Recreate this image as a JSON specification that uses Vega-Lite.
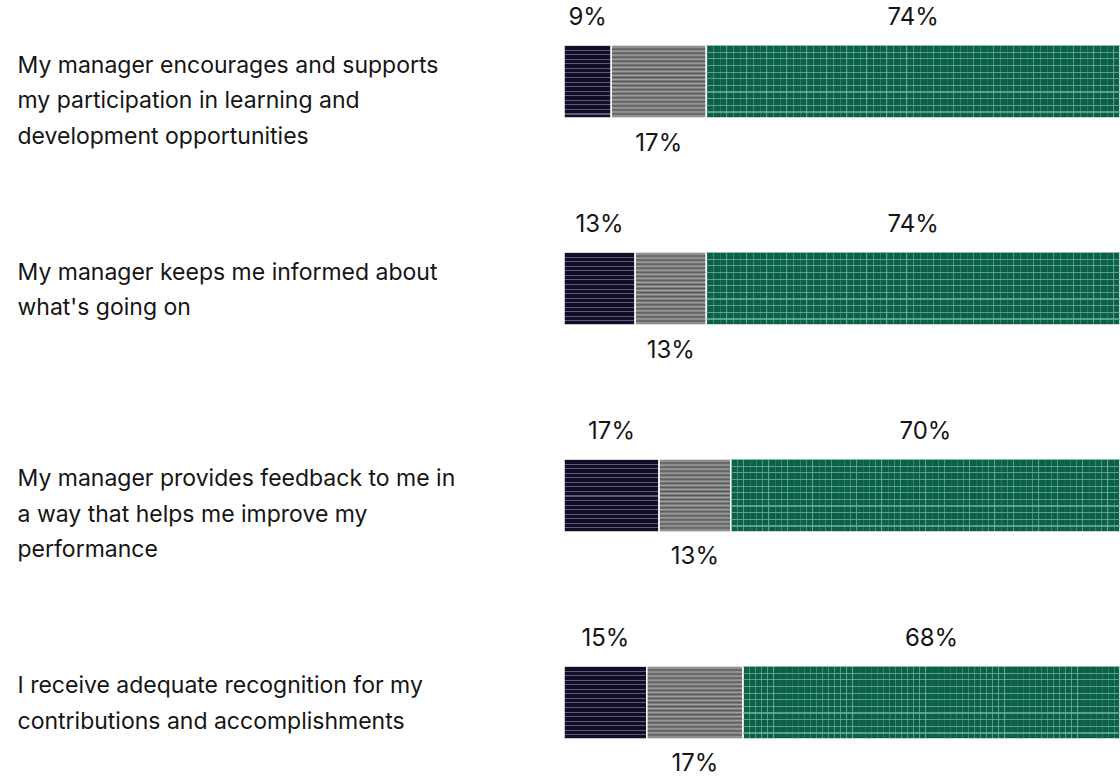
{
  "$schema": "https://vega.github.io/schema/vega-lite/v6.json",
  "width": 556,
  "height": 694,
  "autosize": {"type": "none"},
  "padding": {"left": 564, "top": 45, "right": 0, "bottom": 37},
  "background": "white",
  "config": {"view": {"stroke": null}, "font": "Inter"},
  "data": {
    "values": [
      {"q": "My manager encourages and supports|my participation in learning and|development opportunities", "cat": "Disagree", "o": 1, "v": 8.5, "lbl": "9%"},
      {"q": "My manager encourages and supports|my participation in learning and|development opportunities", "cat": "Neutral", "o": 2, "v": 17.1, "lbl": "17%"},
      {"q": "My manager encourages and supports|my participation in learning and|development opportunities", "cat": "Agree", "o": 3, "v": 74.4, "lbl": "74%"},
      {"q": "My manager keeps me informed about|what's going on", "cat": "Disagree", "o": 1, "v": 12.8, "lbl": "13%"},
      {"q": "My manager keeps me informed about|what's going on", "cat": "Neutral", "o": 2, "v": 12.8, "lbl": "13%"},
      {"q": "My manager keeps me informed about|what's going on", "cat": "Agree", "o": 3, "v": 74.4, "lbl": "74%"},
      {"q": "My manager provides feedback to me in|a way that helps me improve my|performance", "cat": "Disagree", "o": 1, "v": 17.1, "lbl": "17%"},
      {"q": "My manager provides feedback to me in|a way that helps me improve my|performance", "cat": "Neutral", "o": 2, "v": 12.9, "lbl": "13%"},
      {"q": "My manager provides feedback to me in|a way that helps me improve my|performance", "cat": "Agree", "o": 3, "v": 70.0, "lbl": "70%"},
      {"q": "I receive adequate recognition for my|contributions and accomplishments", "cat": "Disagree", "o": 1, "v": 14.9, "lbl": "15%"},
      {"q": "I receive adequate recognition for my|contributions and accomplishments", "cat": "Neutral", "o": 2, "v": 17.3, "lbl": "17%"},
      {"q": "I receive adequate recognition for my|contributions and accomplishments", "cat": "Agree", "o": 3, "v": 67.8, "lbl": "68%"}
    ]
  },
  "transform": [
    {"stack": "v", "groupby": ["q"], "sort": [{"field": "o", "order": "ascending"}], "as": ["v0", "v1"]},
    {"calculate": "(datum.v0 + datum.v1) / 2", "as": "mid"}
  ],
  "encoding": {
    "y": {
      "field": "q",
      "type": "nominal",
      "sort": null,
      "scale": {"paddingInner": 0.647, "paddingOuter": 0},
      "axis": {
        "title": null,
        "ticks": false,
        "domain": false,
        "labelAlign": "left",
        "labelPadding": 547,
        "labelLimit": 0,
        "labelFont": "Inter",
        "labelFontSize": 23,
        "labelColor": "#151515",
        "labelBaseline": "top",
        "labelOffset": -27,
        "labelLineHeight": 35.5,
        "labelExpr": "split(datum.label, '|')"
      }
    }
  },
  "layer": [
    {
      "transform": [{"filter": "datum.cat === 'Disagree'"}],
      "mark": {
        "type": "bar",
        "stroke": "white",
        "strokeWidth": 1.5,
        "fill": {
          "gradient": "linear", "x1": 0, "y1": 0, "x2": 0, "y2": 1,
          "stops": [
            {"offset": 0, "color": "#5e5a74"}, {"offset": 0.014, "color": "#5e5a74"}, {"offset": 0.014, "color": "#110d27"}, {"offset": 0.0625, "color": "#110d27"},
            {"offset": 0.0625, "color": "#5e5a74"}, {"offset": 0.0765, "color": "#5e5a74"}, {"offset": 0.0765, "color": "#110d27"}, {"offset": 0.125, "color": "#110d27"},
            {"offset": 0.125, "color": "#5e5a74"}, {"offset": 0.139, "color": "#5e5a74"}, {"offset": 0.139, "color": "#110d27"}, {"offset": 0.1875, "color": "#110d27"},
            {"offset": 0.1875, "color": "#5e5a74"}, {"offset": 0.2015, "color": "#5e5a74"}, {"offset": 0.2015, "color": "#110d27"}, {"offset": 0.25, "color": "#110d27"},
            {"offset": 0.25, "color": "#5e5a74"}, {"offset": 0.264, "color": "#5e5a74"}, {"offset": 0.264, "color": "#110d27"}, {"offset": 0.3125, "color": "#110d27"},
            {"offset": 0.3125, "color": "#5e5a74"}, {"offset": 0.3265, "color": "#5e5a74"}, {"offset": 0.3265, "color": "#110d27"}, {"offset": 0.375, "color": "#110d27"},
            {"offset": 0.375, "color": "#5e5a74"}, {"offset": 0.389, "color": "#5e5a74"}, {"offset": 0.389, "color": "#110d27"}, {"offset": 0.4375, "color": "#110d27"},
            {"offset": 0.4375, "color": "#5e5a74"}, {"offset": 0.4515, "color": "#5e5a74"}, {"offset": 0.4515, "color": "#110d27"}, {"offset": 0.5, "color": "#110d27"},
            {"offset": 0.5, "color": "#5e5a74"}, {"offset": 0.514, "color": "#5e5a74"}, {"offset": 0.514, "color": "#110d27"}, {"offset": 0.5625, "color": "#110d27"},
            {"offset": 0.5625, "color": "#5e5a74"}, {"offset": 0.5765, "color": "#5e5a74"}, {"offset": 0.5765, "color": "#110d27"}, {"offset": 0.625, "color": "#110d27"},
            {"offset": 0.625, "color": "#5e5a74"}, {"offset": 0.639, "color": "#5e5a74"}, {"offset": 0.639, "color": "#110d27"}, {"offset": 0.6875, "color": "#110d27"},
            {"offset": 0.6875, "color": "#5e5a74"}, {"offset": 0.7015, "color": "#5e5a74"}, {"offset": 0.7015, "color": "#110d27"}, {"offset": 0.75, "color": "#110d27"},
            {"offset": 0.75, "color": "#5e5a74"}, {"offset": 0.764, "color": "#5e5a74"}, {"offset": 0.764, "color": "#110d27"}, {"offset": 0.8125, "color": "#110d27"},
            {"offset": 0.8125, "color": "#5e5a74"}, {"offset": 0.8265, "color": "#5e5a74"}, {"offset": 0.8265, "color": "#110d27"}, {"offset": 0.875, "color": "#110d27"},
            {"offset": 0.875, "color": "#5e5a74"}, {"offset": 0.889, "color": "#5e5a74"}, {"offset": 0.889, "color": "#110d27"}, {"offset": 0.9375, "color": "#110d27"},
            {"offset": 0.9375, "color": "#5e5a74"}, {"offset": 0.9515, "color": "#5e5a74"}, {"offset": 0.9515, "color": "#110d27"}, {"offset": 1, "color": "#110d27"}
          ]
        }
      },
      "encoding": {
        "x": {"field": "v0", "type": "quantitative", "scale": {"domain": [0, 100], "nice": false, "zero": true}, "axis": null},
        "x2": {"field": "v1"}
      }
    },
    {
      "transform": [{"filter": "datum.cat === 'Neutral'"}],
      "mark": {
        "type": "bar",
        "stroke": "white",
        "strokeWidth": 1.5,
        "fill": {
          "gradient": "linear", "x1": 0, "y1": 0, "x2": 0, "y2": 1,
          "stops": [
            {"offset": 0, "color": "#575757"}, {"offset": 0.02778, "color": "#a2a2a2"}, {"offset": 0.05556, "color": "#575757"}, {"offset": 0.08333, "color": "#a2a2a2"},
            {"offset": 0.11111, "color": "#575757"}, {"offset": 0.13889, "color": "#a2a2a2"}, {"offset": 0.16667, "color": "#575757"}, {"offset": 0.19444, "color": "#a2a2a2"},
            {"offset": 0.22222, "color": "#575757"}, {"offset": 0.25, "color": "#a2a2a2"}, {"offset": 0.27778, "color": "#575757"}, {"offset": 0.30556, "color": "#a2a2a2"},
            {"offset": 0.33333, "color": "#575757"}, {"offset": 0.36111, "color": "#a2a2a2"}, {"offset": 0.38889, "color": "#575757"}, {"offset": 0.41667, "color": "#a2a2a2"},
            {"offset": 0.44444, "color": "#575757"}, {"offset": 0.47222, "color": "#a2a2a2"}, {"offset": 0.5, "color": "#575757"}, {"offset": 0.52778, "color": "#a2a2a2"},
            {"offset": 0.55556, "color": "#575757"}, {"offset": 0.58333, "color": "#a2a2a2"}, {"offset": 0.61111, "color": "#575757"}, {"offset": 0.63889, "color": "#a2a2a2"},
            {"offset": 0.66667, "color": "#575757"}, {"offset": 0.69444, "color": "#a2a2a2"}, {"offset": 0.72222, "color": "#575757"}, {"offset": 0.75, "color": "#a2a2a2"},
            {"offset": 0.77778, "color": "#575757"}, {"offset": 0.80556, "color": "#a2a2a2"}, {"offset": 0.83333, "color": "#575757"}, {"offset": 0.86111, "color": "#a2a2a2"},
            {"offset": 0.88889, "color": "#575757"}, {"offset": 0.91667, "color": "#a2a2a2"}, {"offset": 0.94444, "color": "#575757"}, {"offset": 0.97222, "color": "#a2a2a2"},
            {"offset": 1, "color": "#575757"}
          ]
        }
      },
      "encoding": {
        "x": {"field": "v0", "type": "quantitative"},
        "x2": {"field": "v1"}
      }
    },
    {
      "transform": [{"filter": "datum.cat === 'Agree'"}],
      "mark": {
        "type": "bar",
        "stroke": "white",
        "strokeWidth": 1.5,
        "fill": {
          "gradient": "linear", "x1": 0, "y1": 0, "x2": 1, "y2": 0,
          "stops": [
            {"offset": 0, "color": "#66a590"}, {"offset": 0.003, "color": "#0b6147"}, {"offset": 0.01613, "color": "#0b6147"},
            {"offset": 0.01613, "color": "#66a590"}, {"offset": 0.01913, "color": "#0b6147"}, {"offset": 0.03226, "color": "#0b6147"},
            {"offset": 0.03226, "color": "#66a590"}, {"offset": 0.03526, "color": "#0b6147"}, {"offset": 0.04839, "color": "#0b6147"},
            {"offset": 0.04839, "color": "#66a590"}, {"offset": 0.05139, "color": "#0b6147"}, {"offset": 0.06452, "color": "#0b6147"},
            {"offset": 0.06452, "color": "#66a590"}, {"offset": 0.06752, "color": "#0b6147"}, {"offset": 0.08065, "color": "#0b6147"},
            {"offset": 0.08065, "color": "#66a590"}, {"offset": 0.08365, "color": "#0b6147"}, {"offset": 0.09677, "color": "#0b6147"},
            {"offset": 0.09677, "color": "#66a590"}, {"offset": 0.09977, "color": "#0b6147"}, {"offset": 0.1129, "color": "#0b6147"},
            {"offset": 0.1129, "color": "#66a590"}, {"offset": 0.1159, "color": "#0b6147"}, {"offset": 0.12903, "color": "#0b6147"},
            {"offset": 0.12903, "color": "#66a590"}, {"offset": 0.13203, "color": "#0b6147"}, {"offset": 0.14516, "color": "#0b6147"},
            {"offset": 0.14516, "color": "#66a590"}, {"offset": 0.14816, "color": "#0b6147"}, {"offset": 0.16129, "color": "#0b6147"},
            {"offset": 0.16129, "color": "#66a590"}, {"offset": 0.16429, "color": "#0b6147"}, {"offset": 0.17742, "color": "#0b6147"},
            {"offset": 0.17742, "color": "#66a590"}, {"offset": 0.18042, "color": "#0b6147"}, {"offset": 0.19355, "color": "#0b6147"},
            {"offset": 0.19355, "color": "#66a590"}, {"offset": 0.19655, "color": "#0b6147"}, {"offset": 0.20968, "color": "#0b6147"},
            {"offset": 0.20968, "color": "#66a590"}, {"offset": 0.21268, "color": "#0b6147"}, {"offset": 0.22581, "color": "#0b6147"},
            {"offset": 0.22581, "color": "#66a590"}, {"offset": 0.22881, "color": "#0b6147"}, {"offset": 0.24194, "color": "#0b6147"},
            {"offset": 0.24194, "color": "#66a590"}, {"offset": 0.24494, "color": "#0b6147"}, {"offset": 0.25806, "color": "#0b6147"},
            {"offset": 0.25806, "color": "#66a590"}, {"offset": 0.26106, "color": "#0b6147"}, {"offset": 0.27419, "color": "#0b6147"},
            {"offset": 0.27419, "color": "#66a590"}, {"offset": 0.27719, "color": "#0b6147"}, {"offset": 0.29032, "color": "#0b6147"},
            {"offset": 0.29032, "color": "#66a590"}, {"offset": 0.29332, "color": "#0b6147"}, {"offset": 0.30645, "color": "#0b6147"},
            {"offset": 0.30645, "color": "#66a590"}, {"offset": 0.30945, "color": "#0b6147"}, {"offset": 0.32258, "color": "#0b6147"},
            {"offset": 0.32258, "color": "#66a590"}, {"offset": 0.32558, "color": "#0b6147"}, {"offset": 0.33871, "color": "#0b6147"},
            {"offset": 0.33871, "color": "#66a590"}, {"offset": 0.34171, "color": "#0b6147"}, {"offset": 0.35484, "color": "#0b6147"},
            {"offset": 0.35484, "color": "#66a590"}, {"offset": 0.35784, "color": "#0b6147"}, {"offset": 0.37097, "color": "#0b6147"},
            {"offset": 0.37097, "color": "#66a590"}, {"offset": 0.37397, "color": "#0b6147"}, {"offset": 0.3871, "color": "#0b6147"},
            {"offset": 0.3871, "color": "#66a590"}, {"offset": 0.3901, "color": "#0b6147"}, {"offset": 0.40323, "color": "#0b6147"},
            {"offset": 0.40323, "color": "#66a590"}, {"offset": 0.40623, "color": "#0b6147"}, {"offset": 0.41935, "color": "#0b6147"},
            {"offset": 0.41935, "color": "#66a590"}, {"offset": 0.42235, "color": "#0b6147"}, {"offset": 0.43548, "color": "#0b6147"},
            {"offset": 0.43548, "color": "#66a590"}, {"offset": 0.43848, "color": "#0b6147"}, {"offset": 0.45161, "color": "#0b6147"},
            {"offset": 0.45161, "color": "#66a590"}, {"offset": 0.45461, "color": "#0b6147"}, {"offset": 0.46774, "color": "#0b6147"},
            {"offset": 0.46774, "color": "#66a590"}, {"offset": 0.47074, "color": "#0b6147"}, {"offset": 0.48387, "color": "#0b6147"},
            {"offset": 0.48387, "color": "#66a590"}, {"offset": 0.48687, "color": "#0b6147"}, {"offset": 0.5, "color": "#0b6147"},
            {"offset": 0.5, "color": "#66a590"}, {"offset": 0.503, "color": "#0b6147"}, {"offset": 0.51613, "color": "#0b6147"},
            {"offset": 0.51613, "color": "#66a590"}, {"offset": 0.51913, "color": "#0b6147"}, {"offset": 0.53226, "color": "#0b6147"},
            {"offset": 0.53226, "color": "#66a590"}, {"offset": 0.53526, "color": "#0b6147"}, {"offset": 0.54839, "color": "#0b6147"},
            {"offset": 0.54839, "color": "#66a590"}, {"offset": 0.55139, "color": "#0b6147"}, {"offset": 0.56452, "color": "#0b6147"},
            {"offset": 0.56452, "color": "#66a590"}, {"offset": 0.56752, "color": "#0b6147"}, {"offset": 0.58065, "color": "#0b6147"},
            {"offset": 0.58065, "color": "#66a590"}, {"offset": 0.58365, "color": "#0b6147"}, {"offset": 0.59677, "color": "#0b6147"},
            {"offset": 0.59677, "color": "#66a590"}, {"offset": 0.59977, "color": "#0b6147"}, {"offset": 0.6129, "color": "#0b6147"},
            {"offset": 0.6129, "color": "#66a590"}, {"offset": 0.6159, "color": "#0b6147"}, {"offset": 0.62903, "color": "#0b6147"},
            {"offset": 0.62903, "color": "#66a590"}, {"offset": 0.63203, "color": "#0b6147"}, {"offset": 0.64516, "color": "#0b6147"},
            {"offset": 0.64516, "color": "#66a590"}, {"offset": 0.64816, "color": "#0b6147"}, {"offset": 0.66129, "color": "#0b6147"},
            {"offset": 0.66129, "color": "#66a590"}, {"offset": 0.66429, "color": "#0b6147"}, {"offset": 0.67742, "color": "#0b6147"},
            {"offset": 0.67742, "color": "#66a590"}, {"offset": 0.68042, "color": "#0b6147"}, {"offset": 0.69355, "color": "#0b6147"},
            {"offset": 0.69355, "color": "#66a590"}, {"offset": 0.69655, "color": "#0b6147"}, {"offset": 0.70968, "color": "#0b6147"},
            {"offset": 0.70968, "color": "#66a590"}, {"offset": 0.71268, "color": "#0b6147"}, {"offset": 0.72581, "color": "#0b6147"},
            {"offset": 0.72581, "color": "#66a590"}, {"offset": 0.72881, "color": "#0b6147"}, {"offset": 0.74194, "color": "#0b6147"},
            {"offset": 0.74194, "color": "#66a590"}, {"offset": 0.74494, "color": "#0b6147"}, {"offset": 0.75806, "color": "#0b6147"},
            {"offset": 0.75806, "color": "#66a590"}, {"offset": 0.76106, "color": "#0b6147"}, {"offset": 0.77419, "color": "#0b6147"},
            {"offset": 0.77419, "color": "#66a590"}, {"offset": 0.77719, "color": "#0b6147"}, {"offset": 0.79032, "color": "#0b6147"},
            {"offset": 0.79032, "color": "#66a590"}, {"offset": 0.79332, "color": "#0b6147"}, {"offset": 0.80645, "color": "#0b6147"},
            {"offset": 0.80645, "color": "#66a590"}, {"offset": 0.80945, "color": "#0b6147"}, {"offset": 0.82258, "color": "#0b6147"},
            {"offset": 0.82258, "color": "#66a590"}, {"offset": 0.82558, "color": "#0b6147"}, {"offset": 0.83871, "color": "#0b6147"},
            {"offset": 0.83871, "color": "#66a590"}, {"offset": 0.84171, "color": "#0b6147"}, {"offset": 0.85484, "color": "#0b6147"},
            {"offset": 0.85484, "color": "#66a590"}, {"offset": 0.85784, "color": "#0b6147"}, {"offset": 0.87097, "color": "#0b6147"},
            {"offset": 0.87097, "color": "#66a590"}, {"offset": 0.87397, "color": "#0b6147"}, {"offset": 0.8871, "color": "#0b6147"},
            {"offset": 0.8871, "color": "#66a590"}, {"offset": 0.8901, "color": "#0b6147"}, {"offset": 0.90323, "color": "#0b6147"},
            {"offset": 0.90323, "color": "#66a590"}, {"offset": 0.90623, "color": "#0b6147"}, {"offset": 0.91935, "color": "#0b6147"},
            {"offset": 0.91935, "color": "#66a590"}, {"offset": 0.92235, "color": "#0b6147"}, {"offset": 0.93548, "color": "#0b6147"},
            {"offset": 0.93548, "color": "#66a590"}, {"offset": 0.93848, "color": "#0b6147"}, {"offset": 0.95161, "color": "#0b6147"},
            {"offset": 0.95161, "color": "#66a590"}, {"offset": 0.95461, "color": "#0b6147"}, {"offset": 0.96774, "color": "#0b6147"},
            {"offset": 0.96774, "color": "#66a590"}, {"offset": 0.97074, "color": "#0b6147"}, {"offset": 0.98387, "color": "#0b6147"},
            {"offset": 0.98387, "color": "#66a590"}, {"offset": 0.98687, "color": "#0b6147"}, {"offset": 1, "color": "#0b6147"}
          ]
        }
      },
      "encoding": {
        "x": {"field": "v0", "type": "quantitative"},
        "x2": {"field": "v1"}
      }
    },
    {
      "transform": [{"filter": "datum.cat === 'Agree'"}],
      "mark": {
        "type": "bar",
        "fill": {
          "gradient": "linear", "x1": 0, "y1": 0, "x2": 0, "y2": 1,
          "stops": [
            {"offset": 0, "color": "rgba(120,180,160,0.75)"}, {"offset": 0.016, "color": "rgba(120,180,160,0.75)"}, {"offset": 0.016, "color": "rgba(120,180,160,0)"}, {"offset": 0.0909, "color": "rgba(120,180,160,0)"},
            {"offset": 0.0909, "color": "rgba(120,180,160,0.75)"}, {"offset": 0.1069, "color": "rgba(120,180,160,0.75)"}, {"offset": 0.1069, "color": "rgba(120,180,160,0)"}, {"offset": 0.1818, "color": "rgba(120,180,160,0)"},
            {"offset": 0.1818, "color": "rgba(120,180,160,0.75)"}, {"offset": 0.1978, "color": "rgba(120,180,160,0.75)"}, {"offset": 0.1978, "color": "rgba(120,180,160,0)"}, {"offset": 0.2727, "color": "rgba(120,180,160,0)"},
            {"offset": 0.2727, "color": "rgba(120,180,160,0.75)"}, {"offset": 0.2887, "color": "rgba(120,180,160,0.75)"}, {"offset": 0.2887, "color": "rgba(120,180,160,0)"}, {"offset": 0.3636, "color": "rgba(120,180,160,0)"},
            {"offset": 0.3636, "color": "rgba(120,180,160,0.75)"}, {"offset": 0.3796, "color": "rgba(120,180,160,0.75)"}, {"offset": 0.3796, "color": "rgba(120,180,160,0)"}, {"offset": 0.4545, "color": "rgba(120,180,160,0)"},
            {"offset": 0.4545, "color": "rgba(120,180,160,0.75)"}, {"offset": 0.4705, "color": "rgba(120,180,160,0.75)"}, {"offset": 0.4705, "color": "rgba(120,180,160,0)"}, {"offset": 0.5455, "color": "rgba(120,180,160,0)"},
            {"offset": 0.5455, "color": "rgba(120,180,160,0.75)"}, {"offset": 0.5615, "color": "rgba(120,180,160,0.75)"}, {"offset": 0.5615, "color": "rgba(120,180,160,0)"}, {"offset": 0.6364, "color": "rgba(120,180,160,0)"},
            {"offset": 0.6364, "color": "rgba(120,180,160,0.75)"}, {"offset": 0.6524, "color": "rgba(120,180,160,0.75)"}, {"offset": 0.6524, "color": "rgba(120,180,160,0)"}, {"offset": 0.7273, "color": "rgba(120,180,160,0)"},
            {"offset": 0.7273, "color": "rgba(120,180,160,0.75)"}, {"offset": 0.7433, "color": "rgba(120,180,160,0.75)"}, {"offset": 0.7433, "color": "rgba(120,180,160,0)"}, {"offset": 0.8182, "color": "rgba(120,180,160,0)"},
            {"offset": 0.8182, "color": "rgba(120,180,160,0.75)"}, {"offset": 0.8342, "color": "rgba(120,180,160,0.75)"}, {"offset": 0.8342, "color": "rgba(120,180,160,0)"}, {"offset": 0.9091, "color": "rgba(120,180,160,0)"},
            {"offset": 0.9091, "color": "rgba(120,180,160,0.75)"}, {"offset": 0.9251, "color": "rgba(120,180,160,0.75)"}, {"offset": 0.9251, "color": "rgba(120,180,160,0)"}, {"offset": 1, "color": "rgba(120,180,160,0)"}
          ]
        }
      },
      "encoding": {
        "x": {"field": "v0", "type": "quantitative"},
        "x2": {"field": "v1"}
      }
    },
    {
      "transform": [{"filter": "datum.cat !== 'Neutral'"}],
      "mark": {"type": "text", "font": "Inter", "fontSize": 24, "color": "#151515", "baseline": "middle", "align": "center", "dy": -63.5},
      "encoding": {
        "x": {"field": "mid", "type": "quantitative"},
        "text": {"field": "lbl"}
      }
    },
    {
      "transform": [{"filter": "datum.cat === 'Neutral'"}],
      "mark": {"type": "text", "font": "Inter", "fontSize": 24, "color": "#151515", "baseline": "middle", "align": "center", "dy": 62},
      "encoding": {
        "x": {"field": "mid", "type": "quantitative"},
        "text": {"field": "lbl"}
      }
    }
  ]
}
